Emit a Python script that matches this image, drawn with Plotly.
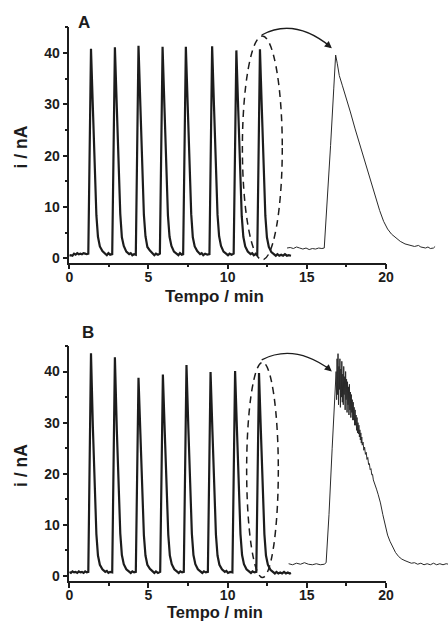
import plotly.graph_objects as go

# panel A: repeated injections (time in min, current in nA)
trace_a = [
    (0.00, 0.5), (0.10, 0.6), (0.20, 0.5), (0.30, 0.9), (0.40, 0.7), (0.50, 1.0), (0.60, 0.8),
    (0.70, 0.9), (0.80, 0.8), (0.90, 1.0), (1.00, 0.9), (1.10, 0.8),
    (1.20, 0.9), (1.28, 19.5), (1.37, 40.8), (1.49, 29.2), (1.61, 16.8), (1.71, 8.4), (1.81, 4.2),
    (1.93, 2.3), (2.09, 1.4), (2.27, 0.9), (2.37, 0.6), (2.47, 1.0), (2.58, 0.7),
    (2.71, 0.8), (2.79, 19.7), (2.88, 41.1), (3.00, 29.4), (3.12, 17.0), (3.22, 8.6), (3.32, 4.1),
    (3.44, 2.4), (3.60, 1.3), (3.78, 0.8), (3.88, 1.0), (3.98, 0.6), (4.09, 0.8),
    (4.20, 0.7), (4.28, 19.8), (4.37, 41.4), (4.49, 29.6), (4.61, 17.1), (4.71, 8.5), (4.81, 4.3),
    (4.93, 2.2), (5.09, 1.5), (5.27, 0.8), (5.37, 0.6), (5.47, 0.9), (5.60, 0.7),
    (5.72, 0.9), (5.80, 19.6), (5.89, 41.2), (6.01, 29.3), (6.13, 16.9), (6.23, 8.3), (6.33, 4.2),
    (6.45, 2.4), (6.61, 1.3), (6.79, 0.9), (6.89, 0.6), (6.99, 1.0), (7.10, 0.7),
    (7.19, 0.8), (7.27, 19.7), (7.36, 41.2), (7.48, 29.5), (7.60, 17.0), (7.70, 8.6), (7.80, 4.1),
    (7.92, 2.3), (8.08, 1.4), (8.26, 0.8), (8.36, 1.0), (8.46, 0.6), (8.58, 0.9), (8.72, 0.7),
    (8.85, 0.8), (8.93, 19.8), (9.02, 41.3), (9.14, 29.4), (9.26, 17.1), (9.36, 8.5), (9.46, 4.3),
    (9.58, 2.4), (9.74, 1.3), (9.92, 0.9), (10.02, 0.6), (10.12, 0.9), (10.25, 0.7),
    (10.38, 0.9), (10.46, 19.4), (10.55, 40.5), (10.67, 28.8), (10.79, 16.6), (10.89, 8.2), (10.99, 4.2),
    (11.11, 2.3), (11.27, 1.3), (11.45, 0.8), (11.55, 1.0), (11.65, 0.6), (11.76, 0.8),
    (11.87, 0.7), (11.95, 19.5), (12.04, 40.7), (12.16, 29.0), (12.28, 16.7), (12.38, 8.3), (12.48, 4.1),
    (12.60, 2.2), (12.76, 1.2), (12.94, 0.7), (13.04, 0.5), (13.14, 0.8), (13.26, 0.5), (13.38, 0.7),
    (13.50, 0.5), (13.62, 0.8), (13.74, 0.5), (13.86, 0.6), (14.00, 0.5),
]

# panel A: expanded view of the last peak
zoom_a = [
    (13.75, 2.0), (13.95, 2.1), (14.15, 1.9), (14.35, 2.2), (14.55, 2.0), (14.75, 1.8), (14.95, 2.0),
    (15.15, 1.7), (15.35, 1.9), (15.55, 1.8), (15.75, 2.0), (15.95, 1.9), (16.10, 2.0),
    (16.30, 11.0), (16.50, 22.0), (16.70, 33.0), (16.82, 39.6), (16.92, 38.0), (17.05, 35.6),
    (17.25, 33.6), (17.50, 31.2), (17.75, 28.5), (18.05, 25.2), (18.40, 21.6), (18.75, 18.0),
    (19.05, 14.9), (19.35, 11.8), (19.60, 9.3), (19.85, 7.2), (20.10, 5.7), (20.35, 4.7),
    (20.60, 4.0), (20.90, 3.3), (21.20, 2.8), (21.50, 2.5), (21.80, 2.3), (22.05, 2.5), (22.20, 2.2),
    (22.50, 2.0), (22.65, 2.2), (22.80, 1.9), (23.00, 2.0), (23.10, 2.3),
]

# panel B: repeated injections
trace_b = [
    (0.00, 0.8), (0.10, 0.6), (0.20, 0.9), (0.30, 0.7), (0.40, 0.8), (0.50, 0.6), (0.60, 0.9),
    (0.70, 0.7), (0.80, 0.8), (0.90, 0.6), (1.00, 0.9), (1.10, 0.7),
    (1.20, 0.8), (1.28, 21.0), (1.37, 43.6), (1.49, 29.0), (1.61, 16.5), (1.71, 8.2), (1.81, 4.0),
    (1.93, 2.2), (2.09, 1.3), (2.27, 0.8), (2.37, 1.0), (2.47, 0.6), (2.58, 0.8),
    (2.71, 0.7), (2.79, 20.5), (2.88, 42.8), (3.00, 28.6), (3.12, 16.4), (3.22, 8.3), (3.32, 4.1),
    (3.44, 2.3), (3.60, 1.3), (3.78, 0.8), (3.88, 0.6), (3.98, 0.9), (4.09, 0.7),
    (4.20, 0.8), (4.28, 18.5), (4.37, 38.8), (4.49, 27.8), (4.61, 16.0), (4.71, 8.0), (4.81, 4.0),
    (4.93, 2.2), (5.09, 1.4), (5.27, 0.8), (5.37, 0.6), (5.47, 0.9), (5.60, 0.6),
    (5.74, 0.8), (5.82, 18.8), (5.91, 39.4), (6.03, 28.0), (6.15, 16.2), (6.25, 8.1), (6.35, 4.0),
    (6.47, 2.3), (6.63, 1.3), (6.81, 0.8), (6.91, 0.6), (7.01, 0.9), (7.12, 0.7),
    (7.23, 0.8), (7.31, 19.8), (7.40, 41.3), (7.52, 28.8), (7.64, 16.6), (7.74, 8.3), (7.84, 4.1),
    (7.96, 2.3), (8.12, 1.3), (8.30, 0.8), (8.40, 0.6), (8.50, 0.9), (8.62, 0.7),
    (8.75, 0.8), (8.83, 19.0), (8.92, 39.9), (9.04, 28.2), (9.16, 16.3), (9.26, 8.1), (9.36, 4.0),
    (9.48, 2.2), (9.64, 1.3), (9.82, 0.8), (9.92, 1.0), (10.02, 0.6), (10.16, 0.8),
    (10.30, 0.7), (10.38, 19.2), (10.47, 40.1), (10.59, 28.4), (10.71, 16.4), (10.81, 8.2), (10.91, 4.1),
    (11.03, 2.3), (11.19, 1.3), (11.37, 0.8), (11.47, 0.6), (11.57, 0.9), (11.69, 0.7),
    (11.81, 0.8), (11.89, 19.0), (11.98, 39.7), (12.10, 28.2), (12.22, 16.3), (12.32, 8.2), (12.42, 4.0),
    (12.54, 2.2), (12.70, 1.2), (12.88, 0.7), (12.98, 0.5), (13.08, 0.8), (13.20, 0.5), (13.32, 0.7),
    (13.44, 0.5), (13.56, 0.8), (13.68, 0.5), (13.80, 0.7), (13.92, 0.5), (14.00, 0.6),
]

# panel B: expanded view of the last peak (noisy top)
zoom_b = [
    (13.85, 2.4), (14.10, 2.2), (14.35, 2.5), (14.60, 2.3), (14.85, 2.6), (15.10, 2.3), (15.35, 2.2),
    (15.60, 2.4), (15.85, 2.2), (16.10, 2.3), (16.22, 2.6),
    (16.40, 12.0), (16.60, 25.0), (16.75, 33.0), (16.85, 40.0), (16.88, 34.5), (16.91, 42.5),
    (16.94, 35.5), (16.97, 43.5), (17.00, 33.5), (17.03, 41.0), (17.06, 36.5), (17.09, 42.5),
    (17.12, 33.0), (17.15, 40.5), (17.18, 35.0), (17.21, 42.0), (17.24, 34.0), (17.27, 39.5),
    (17.30, 33.5), (17.33, 41.0), (17.36, 35.5), (17.39, 39.0), (17.42, 32.5), (17.45, 40.0),
    (17.48, 34.5), (17.51, 38.5), (17.54, 32.0), (17.57, 38.0), (17.60, 33.5), (17.63, 37.0),
    (17.66, 31.5), (17.69, 37.5), (17.72, 32.5), (17.75, 36.0), (17.78, 31.0), (17.81, 35.5),
    (17.84, 32.0), (17.87, 34.5), (17.90, 30.5), (17.93, 34.0), (17.96, 30.5), (17.99, 33.0),
    (18.02, 29.5), (18.05, 32.5), (18.08, 29.5), (18.11, 31.5), (18.14, 28.5), (18.17, 31.0),
    (18.20, 28.0), (18.23, 30.0), (18.26, 27.8), (18.29, 29.5), (18.32, 27.2), (18.35, 28.6),
    (18.38, 26.6), (18.41, 28.0), (18.44, 26.0), (18.47, 27.2), (18.50, 25.6), (18.55, 26.2),
    (18.60, 24.6), (18.65, 25.2), (18.70, 23.8), (18.75, 24.2), (18.80, 22.8), (18.85, 23.2),
    (18.90, 21.8), (18.95, 22.0), (19.00, 20.8), (19.05, 21.0), (19.10, 19.8), (19.15, 19.9),
    (19.20, 18.8), (19.30, 18.0), (19.40, 17.0), (19.50, 16.0), (19.65, 14.3), (19.80, 12.0),
    (19.95, 9.8), (20.10, 8.0), (20.25, 6.8), (20.40, 5.8), (20.60, 4.6), (20.80, 3.8),
    (21.00, 3.3), (21.20, 3.0), (21.40, 2.7), (21.60, 2.5), (21.80, 2.6), (22.00, 2.3),
    (22.20, 2.5), (22.40, 2.2), (22.60, 2.4), (22.80, 2.2), (23.00, 2.5), (23.20, 2.2),
    (23.40, 2.4), (23.60, 2.2), (23.80, 2.4), (23.95, 2.3),
]

x_ticks = [0, 5, 10, 15, 20]
y_ticks = [0, 10, 20, 30, 40]

W, H = 448, 622
INK = "#1c1c1c"
FONT = "Liberation Sans, Arial, sans-serif"

# plot box in pixels
x_left, x_right = 69.3, 386.0
px_per_min = (x_right - x_left) / 20
panels = {
    "A": dict(top=27.3, bottom=262.7, ymin=-0.86, letter=(83.7, 23), xtitle_y=296.5, xtitle_size=17,
              standoff=-4),
    "B": dict(top=346.0, bottom=581.0, ymin=-0.98, letter=(88.3, 332.7), xtitle_y=612.0, xtitle_size=16.5,
              standoff=-5),
}

fig = go.Figure()


def unzip(pts):
    return [p[0] for p in pts], [p[1] for p in pts]


def axis_x(dom, standoff):
    return dict(
        domain=dom, range=[0, 20], tickvals=x_ticks, ticks="outside", ticklen=5, tickwidth=1.5,
        tickcolor=INK, minor=dict(dtick=2.5, tick0=0, ticks="outside", ticklen=3, tickwidth=1.5, tickcolor=INK),
        showline=True, linewidth=1.5, linecolor=INK, showgrid=False, zeroline=False,
        tickfont=dict(family=FONT, size=14, color=INK, weight="bold"), automargin=False,
        ticklabelstandoff=standoff,
    )


def axis_y(dom, ymin):
    return dict(
        domain=dom, range=[ymin, 45], tickvals=y_ticks, ticks="outside", ticklen=5, tickwidth=1.5,
        tickcolor=INK, minor=dict(dtick=5, tick0=0, ticks="outside", ticklen=3, tickwidth=1.5, tickcolor=INK),
        showline=True, linewidth=1.5, linecolor=INK, showgrid=False, zeroline=False,
        tickfont=dict(family=FONT, size=14, color=INK, weight="bold"), automargin=False,
    )


xdom = [x_left / W, x_right / W]
xdom_wide = [x_left / W, 1.0]
wide_range = [0, (W - x_left) / px_per_min]

layout = {}
specs = [("A", "", "3", trace_a, zoom_a), ("B", "2", "4", trace_b, zoom_b)]
for name, k, kz, main_pts, zoom_pts in specs:
    p = panels[name]
    ydom = [1 - p["bottom"] / H, 1 - p["top"] / H]
    xa, ya, xz = "xaxis" + k, "yaxis" + k, "xaxis" + kz
    layout[xa] = axis_x(xdom, p["standoff"])
    layout[xa]["anchor"] = "y" + k
    layout[ya] = axis_y(ydom, p["ymin"])
    layout[ya]["anchor"] = "x" + k
    # the expanded peak runs past the end of the time axis, so it gets its own hidden, wider x axis
    layout[xz] = dict(domain=xdom_wide, range=wide_range, anchor="y" + k, visible=False)

    tx, ty = unzip(main_pts)
    fig.add_trace(go.Scatter(x=tx, y=ty, mode="lines", line=dict(color=INK, width=2.2),
                             xaxis="x" + k, yaxis="y" + k, showlegend=False))
    zx, zy = unzip(zoom_pts)
    fig.add_trace(go.Scatter(x=zx, y=zy, mode="lines", line=dict(color="#2a2a2a", width=1),
                             xaxis="x" + kz, yaxis="y" + k, showlegend=False))

fig.update_layout(**layout)

# dashed ellipses, curved arrows
ell = {"A": (10.93, -0.3, 13.45, 43.3), "B": (11.2, -0.3, 13.2, 41.8)}
arc = {"A": ((12.15, 43.5), (14.2, 47.0), (16.5, 41.2)), "B": ((12.15, 42.3), (14.2, 45.6), (16.5, 40.3))}
for name, k in [("A", ""), ("B", "2")]:
    x0, y0, x1, y1 = ell[name]
    fig.add_shape(type="circle", xref="x" + k, yref="y" + k, x0=x0, y0=y0, x1=x1, y1=y1,
                  line=dict(color=INK, width=1.5, dash="7px,5px"))
    (sx, sy), (cx, cy), (ex, ey) = arc[name]
    fig.add_shape(type="path", xref="x" + k, yref="y" + k,
                  path=f"M {sx},{sy} Q {cx},{cy} {ex},{ey}", line=dict(color=INK, width=1.3))
    fig.add_annotation(x=ex + 0.08, y=ey - 0.3, xref="x" + k, yref="y" + k, ax=-7, ay=-6,
                       showarrow=True, arrowhead=2, arrowsize=1.1, arrowwidth=1.3, arrowcolor=INK, text="")

# panel letters and axis titles (pixel centres from the picture)
for name, p in panels.items():
    lx, ly = p["letter"]
    fig.add_annotation(x=lx / W, y=1 - ly / H, xref="paper", yref="paper", text=name, showarrow=False,
                       xanchor="center", yanchor="middle",
                       font=dict(family=FONT, size=17, color=INK, weight="bold"))
    fig.add_annotation(x=214.5 / W, y=1 - p["xtitle_y"] / H, xref="paper", yref="paper",
                       text="Tempo / min", showarrow=False, xanchor="center", yanchor="middle",
                       borderpad=0, font=dict(family=FONT, size=p["xtitle_size"], color=INK, weight="bold"))
    fig.add_annotation(x=20.5 / W, y=1 - ((p["top"] + p["bottom"]) / 2 + 2) / H, xref="paper", yref="paper",
                       text="i / nA", showarrow=False, textangle=-90, xanchor="center", yanchor="middle",
                       font=dict(family=FONT, size=17.5, color=INK, weight="bold"))

fig.update_layout(
    width=W, height=H, margin=dict(l=0, r=0, t=0, b=0),
    paper_bgcolor="white", plot_bgcolor="rgba(0,0,0,0)", template="none",
)

# page body has a default 8px margin; drop it so the figure sits at the window corner
fig.write_html("out.html", config={"displayModeBar": False},
               post_script="document.body.style.margin='0';")
